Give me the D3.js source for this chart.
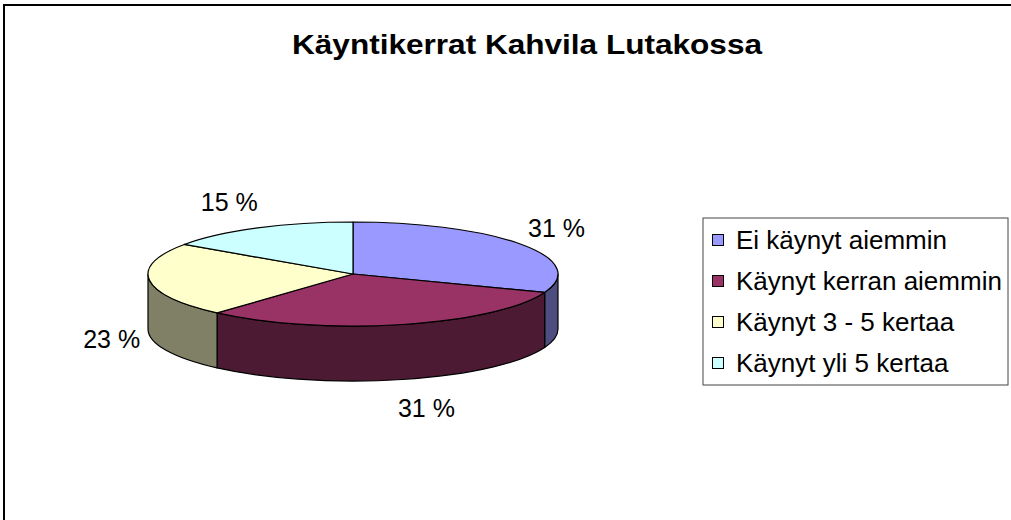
<!doctype html>
<html lang="fi">
<head>
    <meta charset="UTF-8">
    <title>Käyntikerrat</title>
    <script src="https://cdn.jsdelivr.net/npm/d3@7"></script>
    <style>
        body { margin: 0; background: #fff; }
        text { font-family: "Liberation Sans", Arial, sans-serif; fill: #000; }
    </style>
</head>
<body>
<div class="canvas"></div>
<script>
  // data
  const categories = ['Ei käynyt aiemmin', 'Käynyt kerran aiemmin', 'Käynyt 3 - 5 kertaa', 'Käynyt yli 5 kertaa'];
  const counts = [4, 4, 3, 2];
  const topColors = ['#9999ff', '#993366', '#ffffcc', '#ccffff'];
  const sideColors = ['#4d4d80', '#4d1a33', '#808066', '#668080'];
  const title = 'Käyntikerrat Kahvila Lutakossa';

  const width = 1011;
  const height = 520;

  const svg = d3.select('.canvas').append('svg')
    .attr('width', width)
    .attr('height', height);

  // chart frame (runs off the right / bottom edge)
  svg.append('rect')
    .attr('x', 4).attr('y', 5)
    .attr('width', 1100).attr('height', 600)
    .attr('fill', 'none')
    .attr('stroke', '#000')
    .attr('stroke-width', 2);

  svg.append('text')
    .attr('x', 527).attr('y', 54)
    .attr('text-anchor', 'middle')
    .attr('textLength', 470)
    .attr('lengthAdjust', 'spacingAndGlyphs')
    .style('font-size', '27px')
    .style('font-weight', 'bold')
    .text(title);

  // 3d pie geometry
  const cx = 353, cy = 274, rx = 205, ry = 52, depth = 55;
  const pt = (a, z) => [cx + rx * Math.sin(a), cy - ry * Math.cos(a) + z];

  const color = d3.scaleOrdinal().domain(categories).range(topColors);
  const sideColor = d3.scaleOrdinal().domain(categories).range(sideColors);

  const arcs = d3.pie().sort(null).value(d => d)(counts);
  const total = d3.sum(counts);

  const pie = svg.append('g');

  // outer walls, only the front half is visible
  const wallPath = d => {
    const a0 = Math.max(d.startAngle, Math.PI / 2);
    const a1 = Math.min(d.endAngle, Math.PI * 1.5);
    if (a1 <= a0) return null;
    const large = a1 - a0 > Math.PI ? 1 : 0;
    const p0 = pt(a0, 0), p1 = pt(a1, 0), q1 = pt(a1, depth), q0 = pt(a0, depth);
    return `M${p0}A${rx},${ry} 0 ${large} 1 ${p1}L${q1}A${rx},${ry} 0 ${large} 0 ${q0}Z`;
  };

  pie.selectAll('path.wall')
    .data(arcs.filter(d => wallPath(d)))
    .enter()
    .append('path')
    .attr('class', 'wall')
    .attr('d', wallPath)
    .attr('fill', d => sideColor(categories[d.index]))
    .attr('stroke', '#000')
    .attr('stroke-width', 1.2)
    .attr('stroke-linejoin', 'round');

  const topPath = d => {
    const large = d.endAngle - d.startAngle > Math.PI ? 1 : 0;
    return `M${cx},${cy}L${pt(d.startAngle, 0)}A${rx},${ry} 0 ${large} 1 ${pt(d.endAngle, 0)}Z`;
  };

  pie.selectAll('path.top')
    .data(arcs)
    .enter()
    .append('path')
    .attr('class', 'top')
    .attr('d', topPath)
    .attr('fill', d => color(categories[d.index]))
    .attr('stroke', '#000')
    .attr('stroke-width', 1.2)
    .attr('stroke-linejoin', 'round');

  // percentage labels outside the pie
  pie.selectAll('text')
    .data(arcs)
    .enter()
    .append('text')
    .attr('x', d => {
      const m = (d.startAngle + d.endAngle) / 2;
      return cx + (rx + 18) * Math.sin(m) + 20 * Math.sign(Math.sin(m));
    })
    .attr('y', d => {
      const m = (d.startAngle + d.endAngle) / 2;
      return cy - (ry + 29) * Math.cos(m) + (Math.cos(m) < 0 ? depth : 0);
    })
    .attr('dy', '0.36em')
    .attr('text-anchor', 'middle')
    .style('font-size', '25px')
    .text(d => Math.round(d.data / total * 100) + ' %');

  // legend
  const legend = svg.append('g').attr('transform', 'translate(703, 218)');
  legend.append('rect')
    .attr('width', 305).attr('height', 167)
    .attr('fill', '#fff')
    .attr('stroke', '#444')
    .attr('stroke-width', 1);

  const rows = legend.selectAll('g.row')
    .data(categories)
    .enter()
    .append('g')
    .attr('transform', (d, i) => `translate(9, ${31 + i * 41})`);

  rows.append('rect')
    .attr('x', 0.5).attr('y', -14.5)
    .attr('width', 11).attr('height', 11)
    .attr('fill', d => color(d))
    .attr('stroke', '#000');

  rows.append('text')
    .attr('x', 24)
    .attr('y', 0)
    .style('font-size', '26px')
    .text(d => d);
</script>
</body>
</html>
